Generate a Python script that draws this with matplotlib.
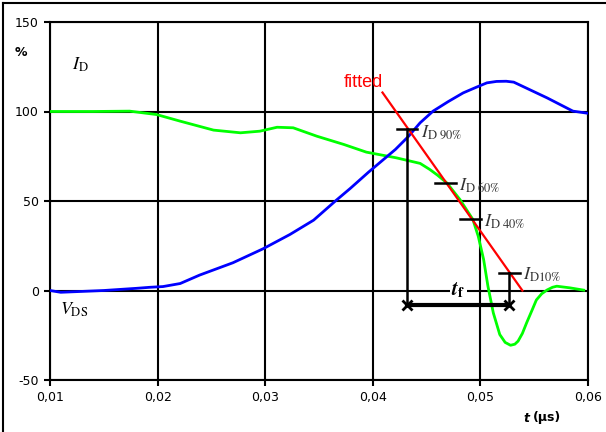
import numpy as np
import matplotlib.pyplot as plt
from matplotlib.lines import Line2D

plt.rcParams['mathtext.fontset'] = 'stix'
plt.rcParams['font.family'] = 'DejaVu Sans'
plt.rcParams['axes.unicode_minus'] = False

# V_DS (green), % of final value
vds_t = [0.010, 0.014, 0.0174, 0.0199, 0.0221, 0.0252, 0.0277, 0.0295, 0.0311,
         0.0326, 0.0348, 0.0373, 0.0394, 0.0422, 0.0444, 0.0453, 0.0460, 0.0469,
         0.0481, 0.0493, 0.0498, 0.0503, 0.0507, 0.0512, 0.0518, 0.0523, 0.0528,
         0.0532, 0.0535, 0.0539, 0.0543, 0.0548, 0.0552, 0.0557, 0.0562, 0.0567,
         0.0571, 0.0583, 0.0596]
vds_v = [100, 100, 100.2, 98.3, 94.6, 89.6, 88.1, 89, 91.2,
         90.9, 86.2, 81.6, 77.3, 74.1, 71, 67.6, 64.5, 60,
         50.8, 39.7, 30.3, 17.3, 2.4, -12.5, -24.6, -29, -30.6,
         -30, -28.3, -24, -18, -11, -5.3, -1.8, 0.3, 1.8,
         2.4, 1.5, 0.2]

# I_D (blue)
id_t = [0.010, 0.011, 0.013, 0.015, 0.018, 0.0193, 0.0205, 0.0221, 0.0239, 0.0270,
        0.0298, 0.0323, 0.0345, 0.0366, 0.0379, 0.0396, 0.0421, 0.0433, 0.0444,
        0.0456, 0.0470, 0.0484, 0.0496, 0.0506, 0.0515, 0.0524, 0.0531, 0.0562,
        0.0586, 0.0600]
id_v = [0, -1, -0.5, 0, 1.2, 1.8, 2.2, 3.9, 8.6, 15.5,
        23.3, 31.3, 39.3, 50.4, 57, 66.1, 78.8, 86, 93.7,
        100.2, 105.5, 110.4, 113.5, 116, 116.8, 116.9, 116.4, 107.6,
        100.2, 99]

# fitted line
fit_t = [0.0409, 0.0539]
fit_v = [110.6, 0]

# markers
mark_lvl = [90, 60, 40, 10]
mark_t = [0.0432, 0.04676, 0.0491, 0.0527]
mark_lbl = [r'$I_{\mathrm{D\ 90\%}}$', r'$I_{\mathrm{D\ 60\%}}$',
            r'$I_{\mathrm{D\ 40\%}}$', r'$I_{\mathrm{D10\%}}$']
tf_y = -8

xticks = [0.01, 0.02, 0.03, 0.04, 0.05, 0.06]
xlabels = ['0,01', '0,02', '0,03', '0,04', '0,05', '0,06']
yticks = [-50, 0, 50, 100, 150]

fig = plt.figure(figsize=(6.06, 4.32), dpi=100)
ax = fig.add_axes([50/606, 1-380/432, 538/606, 358/432])

ax.set_xlim(0.01, 0.06)
ax.set_ylim(-50, 150)
ax.set_xticks(xticks)
ax.set_xticklabels(xlabels)
ax.set_yticks(yticks)
ax.grid(True, color='black', lw=1.5)
ax.set_axisbelow(True)
for s in ax.spines.values():
    s.set_linewidth(1.5)
ax.tick_params(direction='out', length=4, width=1.5, labelsize=9, pad=4)

ax.plot(vds_t, vds_v, color='#00ff00', lw=2, zorder=3, solid_joinstyle='round')
ax.plot(id_t, id_v, color='#0000ff', lw=2, zorder=3, solid_joinstyle='round')
ax.plot(fit_t, fit_v, color='#ff0000', lw=1.6, zorder=4)

hw = 0.00095
for t, lv, lb in zip(mark_t, mark_lvl, mark_lbl):
    ax.plot([t - hw, t + hw], [lv, lv], color='black', lw=1.8, zorder=5)
    ax.text(t + hw + 0.0003, lv - 1.5, lb, fontsize=13, color='#333333',
            va='center', ha='left', zorder=6)

# t_f arrow
t1, t2 = mark_t[0], mark_t[-1]
ax.plot([t1, t1], [mark_lvl[0], tf_y], color='black', lw=1.8, zorder=5)
ax.plot([t2, t2], [mark_lvl[-1], tf_y], color='black', lw=1.8, zorder=5)
ax.plot([t1, t2], [tf_y, tf_y], color='black', lw=3, zorder=5)
ax.plot([t1, t2], [tf_y, tf_y], ls='none', marker='x', ms=7, mew=2,
        color='black', zorder=6)
ax.text((t1 + t2) / 2, 0, r'$\mathbfit{t}_{\mathbf{f}}$', fontsize=15,
        ha='center', va='center', zorder=6,
        bbox=dict(facecolor='white', edgecolor='none', pad=1))

ax.text(0.0128, 126, r'$I_{\mathrm{D}}$', fontsize=13, ha='center', va='center')
ax.text(0.0122, -11, r'$V_{\mathrm{DS}}$', fontsize=13, ha='center', va='center')
ax.text(0.0391, 116, 'fitted', color='#ff0000', fontsize=13,
        family='Liberation Sans', ha='center', va='center')

fig.text(15/606, 1-52/432, '%', fontsize=9, fontweight='bold', ha='left', va='center')
fig.text(523/606, 1-418/432, 't', fontsize=9, fontweight='bold', fontstyle='italic',
         ha='left', va='center')
fig.text(533/606, 1-418/432, '(µs)', fontsize=9, fontweight='bold',
         ha='left', va='center')

# outer frame (cropped)
fig.add_artist(Line2D([3/606, 3/606], [0, 1-3/432], color='black', lw=1.5))
fig.add_artist(Line2D([3/606, 1], [1-3/432, 1-3/432], color='black', lw=1.5))

fig.savefig('out.png', dpi=100)
